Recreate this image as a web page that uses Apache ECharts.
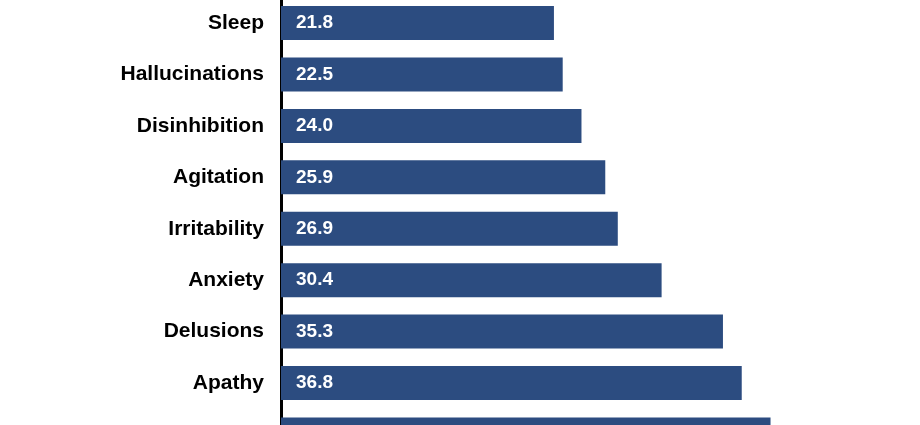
<!DOCTYPE html>
<html>
<head>
<meta charset="utf-8">
<script src="https://cdn.jsdelivr.net/npm/echarts@6/dist/echarts.min.js"></script>
<style>
html,body{margin:0;padding:0;background:#fff;}
#chart{width:920px;height:425px;}
</style>
</head>
<body>
<div id="chart"></div>
<script>
const categories = ['Sleep','Hallucinations','Disinhibition','Agitation','Irritability','Anxiety','Delusions','Apathy','Depression'];
const values = [21.8, 22.5, 24.0, 25.9, 26.9, 30.4, 35.3, 36.8, 39.1];

const chart = echarts.init(document.getElementById('chart'), null, {renderer:'canvas'});
chart.setOption({
  animation: false,
  backgroundColor: '#ffffff',
  grid: { left: 281, width: 626, top: -2.7, height: 462.9, outerBoundsMode: 'none' },
  xAxis: {
    type: 'value', min: 0, max: 50,
    show: false, splitLine: { show: false }
  },
  yAxis: {
    type: 'category', data: categories, inverse: true,
    axisLine: { show: true, lineStyle: { color: '#000', width: 3 } },
    axisTick: { show: false },
    axisLabel: {
      color: '#000', fontSize: 21, fontWeight: 'bold',
      fontFamily: 'Liberation Sans, Arial, sans-serif', margin: 17
    }
  },
  series: [{
    type: 'bar', data: values, barWidth: 34,
    itemStyle: { color: '#2C4C80' },
    label: {
      show: true, position: 'insideLeft', distance: 15,
      color: '#fff', fontSize: 19, fontWeight: 'bold',
      fontFamily: 'Liberation Sans, Arial, sans-serif',
      formatter: p => p.value.toFixed(1)
    }
  }]
});
</script>
</body>
</html>
